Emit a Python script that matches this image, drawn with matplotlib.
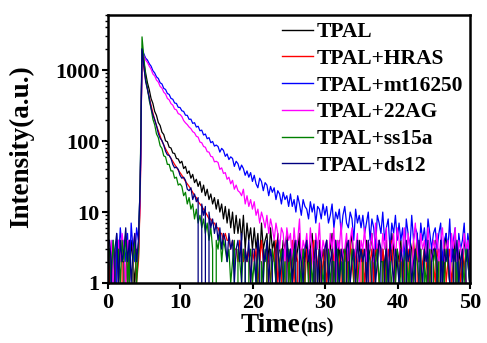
import numpy as np
import matplotlib.pyplot as plt

# channel times (ns), 0.25 ns bins
t = np.arange(200) * 0.25 + 0.2

labels = ['TPAL', 'TPAL+HRAS', 'TPAL+mt16250', 'TPAL+22AG', 'TPAL+ss15a', 'TPAL+ds12']
colors = ['black', 'red', 'blue', 'magenta', 'green', 'navy']

# photon counts per channel, one row = 5 ns
tpal = [1, 3, 0, 2, 4, 1, 3, 2, 2, 0, 3, 1, 4, 2, 1, 3, 2, 20, 1880, 1300,
        910, 665, 530, 398, 340, 262, 230, 183, 166, 134, 124, 101, 98, 82, 80, 68, 67, 57, 56, 49,
        52, 41, 44, 35, 38, 30, 34, 26, 29, 23, 27, 19, 24, 17, 21, 15, 18, 13, 16, 11,
        15, 10, 13, 8, 12, 7, 11, 6, 10, 5, 9, 5, 8, 4, 9, 3, 7, 4, 6, 3,
        6, 3, 5, 2, 7, 3, 4, 5, 2, 6, 3, 4, 1, 5, 3, 2, 4, 3, 5, 2,
        3, 1, 4, 2, 3, 5, 0, 3, 2, 4, 1, 3, 5, 2, 3, 0, 4, 2, 3, 1,
        4, 2, 3, 5, 1, 3, 2, 4, 0, 3, 2, 4, 1, 3, 5, 2, 3, 1, 4, 2,
        3, 0, 4, 2, 3, 5, 1, 3, 2, 4, 2, 3, 1, 4, 0, 2, 5, 3, 1, 3,
        2, 4, 1, 3, 2, 0, 4, 3, 1, 2, 5, 2, 3, 0, 3, 4, 2, 1, 3, 2,
        4, 1, 3, 2, 0, 3, 5, 2, 1, 3, 2, 4, 0, 3, 2, 1, 4, 3, 2, 1]

hras = [2, 0, 3, 1, 2, 4, 0, 3, 3, 1, 2, 4, 0, 2, 3, 1, 2, 15, 1950, 1100,
        720, 540, 410, 320, 250, 200, 165, 140, 118, 100, 88, 78, 70, 63, 57, 52, 47, 43, 39, 36,
        33, 30, 27, 25, 23, 21, 19, 17, 16, 14, 13, 12, 11, 10, 9, 8, 8, 7, 7, 6,
        6, 5, 5, 4, 5, 4, 4, 3, 4, 3, 3, 2, 4, 3, 2, 3, 2, 3, 1, 3,
        2, 3, 1, 2, 4, 2, 0, 3, 2, 1, 3, 2, 4, 1, 2, 3, 0, 2, 3, 1,
        2, 4, 1, 3, 2, 0, 3, 2, 1, 3, 2, 1, 3, 4, 0, 2, 3, 1, 2, 3,
        1, 2, 0, 3, 2, 4, 1, 2, 3, 0, 2, 3, 1, 4, 2, 1, 3, 2, 0, 2,
        3, 1, 2, 0, 2, 3, 1, 4, 2, 1, 0, 3, 2, 1, 3, 2, 4, 1, 2, 0,
        2, 3, 1, 2, 0, 3, 2, 1, 4, 2, 3, 0, 1, 2, 3, 2, 1, 3, 0, 2,
        1, 3, 2, 0, 2, 4, 1, 2, 3, 1, 2, 0, 3, 2, 1, 3, 2, 1, 0, 2]

mt16250 = [3, 1, 4, 0, 5, 2, 6, 3, 4, 2, 5, 1, 7, 3, 2, 6, 4, 25, 2010, 1700,
           1480, 1390, 1235, 1140, 985, 915, 805, 765, 665, 640, 555, 535, 470, 455, 400, 390, 345, 340, 300, 298,
           268, 262, 232, 231, 203, 204, 178, 182, 158, 162, 140, 143, 122, 126, 108, 112, 95, 99, 85, 88,
           84, 70, 79, 74, 61, 66, 55, 60, 57, 44, 52, 48, 39, 46, 41, 33, 38, 31, 36, 27,
           33, 25, 22, 30, 27, 20, 26, 24, 17, 23, 19, 22, 15, 20, 18, 13, 19, 15, 17, 12,
           18, 12, 15, 10, 17, 13, 9, 15, 12, 11, 8, 14, 10, 13, 7, 12, 11, 8, 13, 9,
           12, 7, 9, 13, 6, 10, 8, 11, 5, 9, 12, 7, 6, 10, 8, 4, 11, 7, 9, 6,
           9, 5, 7, 10, 4, 8, 6, 3, 9, 7, 5, 10, 4, 6, 8, 3, 7, 5, 9, 4,
           7, 4, 6, 2, 8, 5, 3, 9, 4, 6, 5, 2, 7, 4, 6, 3, 8, 5, 3, 5,
           6, 3, 5, 7, 2, 4, 5, 3, 8, 2, 4, 6, 1, 5, 3, 4, 7, 2, 5, 3]

ag22 = [2, 4, 1, 3, 0, 4, 2, 5, 3, 1, 4, 2, 0, 3, 5, 2, 3, 18, 1900, 1600,
        1390, 1285, 1140, 1035, 885, 830, 725, 680, 590, 560, 490, 462, 400, 382, 338, 322, 283, 276, 244, 238,
        222, 195, 181, 171, 158, 150, 136, 131, 117, 114, 97, 95, 84, 82, 71, 70, 61, 60, 51, 52,
        50, 40, 42, 35, 36, 29, 31, 25, 28, 21, 24, 20, 19, 17, 21, 13, 17, 12, 15, 11,
        14, 9, 11, 7, 10, 8, 6, 9, 5, 8, 6, 4, 7, 5, 3, 6, 5, 2, 6, 4,
        5, 2, 6, 3, 4, 8, 2, 4, 3, 5, 2, 6, 3, 1, 5, 3, 7, 2, 4, 3,
        4, 2, 5, 3, 6, 1, 4, 3, 7, 2, 3, 5, 2, 4, 6, 2, 3, 5, 1, 4,
        3, 6, 2, 4, 3, 5, 2, 7, 3, 4, 2, 5, 3, 6, 1, 4, 3, 5, 2, 6,
        4, 2, 3, 6, 2, 5, 3, 1, 4, 7, 3, 2, 5, 3, 4, 2, 6, 3, 2, 4,
        3, 5, 2, 4, 6, 2, 3, 4, 1, 5, 3, 6, 2, 4, 3, 2, 5, 3, 4, 2]

ss15a = [3, 1, 4, 2, 0, 3, 1, 4, 2, 5, 1, 3, 0, 2, 4, 1, 3, 30, 2950, 1500,
         790, 560, 372, 288, 204, 170, 126, 112, 86, 79, 62, 60, 47, 47, 38, 38, 30, 31, 24, 25,
         23, 17, 19, 13, 16, 11, 13, 8, 11, 7, 9, 6, 8, 5, 7, 4, 6, 3, 0, 4,
         3, 5, 2, 4, 3, 2, 3, 1, 2, 4, 0, 3, 2, 1, 3, 2, 0, 2, 3, 1,
         2, 1, 3, 0, 2, 1, 3, 2, 0, 1, 3, 2, 1, 0, 2, 3, 1, 2, 0, 3,
         1, 2, 3, 1, 0, 2, 1, 3, 2, 0, 2, 3, 1, 2, 0, 1, 3, 2, 1, 2,
         0, 3, 1, 2, 2, 0, 3, 1, 2, 1, 3, 0, 2, 1, 3, 2, 0, 1, 2, 3,
         2, 0, 1, 3, 2, 1, 0, 2, 3, 1, 2, 2, 0, 3, 1, 2, 1, 0, 2, 3,
         1, 2, 0, 2, 3, 1, 2, 0, 1, 3, 2, 1, 3, 0, 2, 1, 2, 3, 0, 2,
         3, 1, 2, 0, 2, 1, 3, 2, 1, 0, 2, 3, 1, 2, 0, 2, 1, 3, 2, 1]

ds12 = [4, 2, 0, 3, 5, 1, 4, 2, 3, 6, 2, 4, 1, 3, 5, 2, 4, 25, 1990, 1150,
        690, 530, 410, 292, 235, 200, 165, 128, 110, 102, 88, 72, 64, 63, 57, 47, 42, 43, 40, 33,
        30, 31, 28, 21, 20, 22, 15, 18, 14, 16, 0, 13, 9, 12, 0, 10, 6, 8, 5, 7,
        4, 6, 3, 5, 4, 2, 5, 3, 4, 1, 3, 4, 2, 5, 0, 3, 2, 4, 1, 3,
        3, 1, 4, 2, 0, 3, 2, 4, 1, 3, 2, 0, 3, 4, 1, 2, 3, 0, 4, 2,
        3, 1, 2, 4, 0, 3, 2, 1, 3, 4, 2, 3, 0, 2, 4, 1, 3, 2, 0, 3,
        4, 1, 2, 3, 0, 4, 2, 1, 3, 2, 0, 3, 4, 1, 2, 3, 1, 4, 2, 3,
        2, 3, 1, 4, 0, 2, 3, 1, 2, 4, 3, 0, 2, 3, 1, 4, 2, 1, 3, 2,
        1, 3, 2, 0, 4, 2, 3, 1, 2, 3, 0, 4, 2, 1, 3, 2, 4, 0, 2, 3,
        3, 2, 0, 4, 1, 3, 2, 3, 1, 0, 3, 2, 4, 1, 2, 3, 0, 2, 3, 1]

series = [tpal, hras, mt16250, ag22, ss15a, ds12]

plt.rcParams['font.family'] = 'Liberation Serif'
plt.rcParams['font.weight'] = 'bold'

fig = plt.figure(figsize=(4.87, 3.43), dpi=100)
ax = fig.add_axes([108/487, 1-283/343, 362/487, 268/343])

for y, c, lab in zip(series, colors, labels):
    ax.plot(t, y, color=c, lw=0.9, label=lab)

ax.set_yscale('log', nonpositive='clip')
ax.set_xlim(0, 50)
ax.set_ylim(1, 6000)
ax.set_xticks([0, 10, 20, 30, 40, 50])
ax.set_yticks([1, 10, 100, 1000])
ax.set_yticklabels(['1', '10', '100', '1000'])
ax.tick_params(axis='both', which='major', direction='out', length=4, width=1.5,
               labelsize=16, pad=2)
ax.tick_params(axis='y', which='minor', direction='out', length=2.5, width=1)
ax.tick_params(axis='x', pad=3)
for s in ax.spines.values():
    s.set_linewidth(1.8)

fig.text(22/487, 1-147/343, 'Intensity(a.u.)', rotation=90, ha='center', va='center',
         fontsize=19.5, fontweight='bold')
fig.text(300/487, 1-332/343, 'Time', ha='right', va='baseline', fontsize=19.5, fontweight='bold')
fig.text(300/487, 1-332/343, '(ns)', ha='left', va='baseline', fontsize=15, fontweight='bold')

leg = ax.legend(loc='upper left', bbox_to_anchor=(282/487, 1-22/343), bbox_transform=fig.transFigure,
                frameon=False, prop={'size': 15.5, 'weight': 'bold'}, handlelength=1.44,
                handletextpad=0.19, labelspacing=0.31, borderpad=0, borderaxespad=0)
for h in leg.get_lines():
    h.set_linewidth(1.0)

fig.savefig('out.png', dpi=100)
